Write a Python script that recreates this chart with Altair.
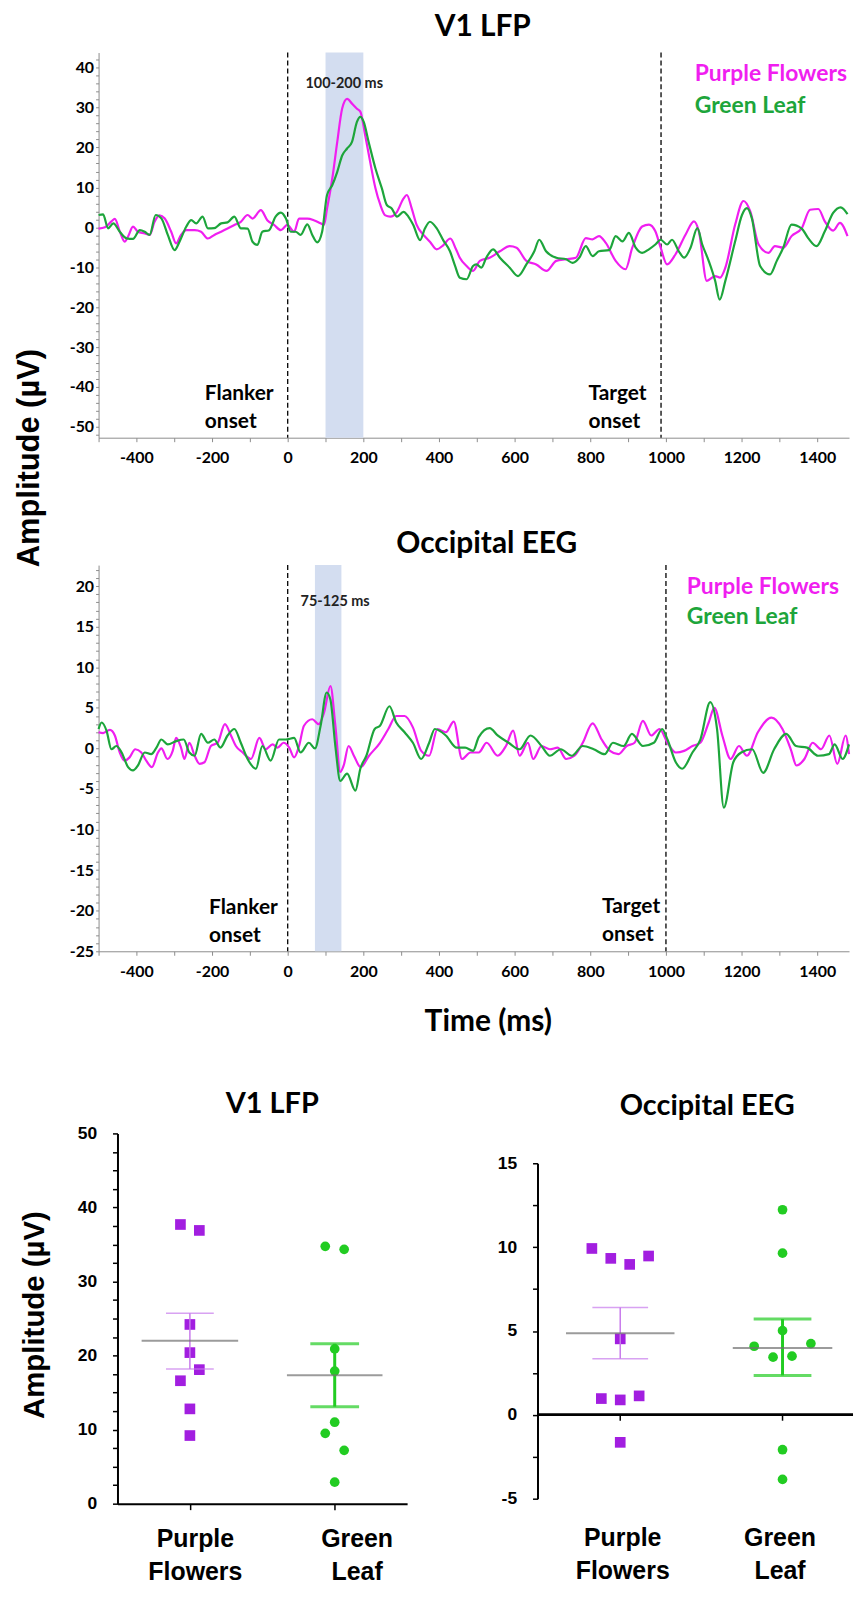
import altair as alt
import pandas as pd

PF = "Purple Flowers"
GL = "Green Leaf"
CATS = [PF, GL]

# ---------------- time courses (t in ms, amplitude in uV) ----------------
LFP_PF_TRACE = [(-500,-0.3),(-483,0),(-466,1.5),(-457,2.1),(-444,-1),(-431,-3.6),(-422,-2.3),(-409,0.2),(-396,-1.1),(-378,-1.5),(-365,-1.9),(-352,1.4),(-339,3),(-325,2.2),(-308,-1.1),(-295,-4),(-282,-1.9),(-268,-0.7),(-246,-0.7),(-229,-1.1),(-211,-2.8),(-194,-1.9),(-176,-1.1),(-159,-0.3),(-141,0.6),(-124,1.4),(-106,3.1),(-93,2.2),(-71,4.3),(-54,1.8),(-36,0.6),(-18,-0.7),(-1,0.6),(17,-1.1),(30,2.2),(52,2.2),(69,1.8),(87,1),(96,0.6),(104,4.7),(118,12.3),(131,21.4),(144,29.8),(157,32.2),(170,31),(183,29.7),(192,29),(205,23),(218,16.4),(232,9.8),(245,5.6),(258,3),(271,2.7),(289,3.9),(306,7.2),(315,8.1),(328,4.7),(341,0.6),(359,-1.9),(376,-3.6),(394,-5.5),(411,-4.5),(430,-2.8),(445,-5.5),(455,-7.6),(473,-9.7),(490,-10.9),(508,-8.4),(534,-7.6),(561,-6),(587,-4.7),(605,-5.1),(631,-8.4),(657,-9.3),(684,-10.9),(710,-8.4),(736,-8),(762,-7.6),(788,-2.7),(806,-3),(823,-2.2),(841,-3.9),(867,-8.4),(893,-10.5),(911,-5.1),(937,0.2),(955,0.7),(972,-1),(986,-5.1),(1003,-9.3),(1025,-6.8),(1052,-1.8),(1074,1.5),(1087,-1),(1108,-13.4),(1130,-12.2),(1143,-12.6),(1157,-10.1),(1183,0.7),(1205,6.6),(1223,4),(1245,-4.3),(1271,-6.4),(1288,-4.7),(1310,-5.1),(1332,-2.2),(1359,-0.2),(1381,4.4),(1403,4.6),(1420,1.5),(1442,-0.8),(1460,1.1),(1480,-2.2)]

LFP_GL_TRACE = [(-500,3.1),(-488,3.25),(-475,-0.25),(-461,1),(-444,-1.1),(-426,-2.75),(-409,-2.9),(-391,-0.7),(-378,-1.1),(-365,-1.9),(-349,3.1),(-334,2.25),(-317,-1.9),(-299,-5.7),(-286,-3.6),(-268,0.2),(-255,1.8),(-242,1),(-225,2.7),(-211,-0.25),(-194,-0.2),(-176,1),(-159,1.25),(-141,2.7),(-124,-0.25),(-106,-0.3),(-93,-3.6),(-80,-4.4),(-67,-1.1),(-49,-0.7),(-32,2.7),(-18,3.7),(-5,2.25),(8,-1.1),(21,-1.1),(34,-1.9),(52,0.75),(65,-1.9),(78,-3.75),(91,-1.1),(104,8.1),(118,10.6),(131,13.9),(144,18),(157,19.75),(170,21.4),(183,26.4),(192,27.7),(201,26.4),(214,21.4),(232,14.75),(249,9.75),(262,5.6),(275,4.75),(289,2.7),(306,3.9),(319,2.7),(332,0.6),(350,-3.2),(363,-0.25),(376,1.4),(394,-0.25),(411,-3.2),(429,-6),(442,-9.5),(455,-12.6),(473,-13),(490,-9.7),(499,-9.3),(512,-10.1),(525,-7.6),(543,-5.5),(561,-7.6),(587,-10.1),(609,-12.2),(631,-9.3),(652,-6),(665,-3.1),(683,-6),(710,-7.6),(736,-8),(753,-8.9),(771,-7.6),(788,-4.7),(806,-7.2),(823,-6),(850,-5.7),(867,-2.2),(885,-3.5),(902,-1.4),(920,-5.1),(937,-6.4),(955,-5.5),(972,-4.3),(986,-3.1),(1003,-4.3),(1016,-3.1),(1034,-6),(1048,-7.6),(1065,-5.1),(1083,-0.2),(1096,-4.3),(1113,-8.4),(1130,-13.4),(1142,-18.1),(1157,-13.4),(1183,-3.5),(1201,3.1),(1214,4.8),(1227,2.3),(1249,-9.7),(1275,-11.8),(1293,-8.4),(1310,-5.1),(1332,0.7),(1359,-0.3),(1376,-2.7),(1398,-4.7),(1420,-1),(1442,3.6),(1462,5),(1480,3.3)]

EEG_PF_TRACE = [(-500,2),(-488,1.9),(-470,2.3),(-457,1.6),(-444,-0.5),(-431,-1.5),(-418,-1.1),(-403,-0.1),(-387,-0.5),(-374,-1.5),(-359,-2.3),(-343,-0.5),(-334,0),(-318,-1.3),(-304,-0.3),(-295,1.3),(-282,0.1),(-273,-1.3),(-260,0.7),(-246,-0.9),(-233,-1.9),(-220,-1.7),(-203,0.3),(-185,0.7),(-166,3),(-150,1.6),(-137,0.3),(-119,-0.5),(-97,-1.3),(-75,1.3),(-58,-0.1),(-40,0.5),(-27,0.1),(-11,0.7),(4,0.1),(17,-1.1),(30,0.3),(43,2.8),(65,3.6),(82,3),(96,4.4),(113,7.7),(126,2.8),(139,-2.9),(148,-2.1),(161,0.3),(175,-0.9),(193,-2.3),(215,-0.9),(244,0.7),(266,2.4),(287,4),(309,4),(331,2.6),(353,-0.3),(374,-0.9),(396,2.4),(418,2),(439,3.3),(461,-1.3),(483,-0.5),(505,-0.5),(526,0.7),(555,-0.9),(577,0.3),(596,2.2),(613,-0.9),(635,0.7),(649,-1.3),(671,0.3),(693,-0.1),(714,0.1),(736,-1.3),(758,-0.9),(780,0.7),(806,3.1),(830,1.1),(852,-0.3),(874,-0.7),(896,0.3),(917,0.7),(939,3.4),(961,1.6),(983,2.4),(1004,0.7),(1026,-0.5),(1048,-0.3),(1070,0.3),(1091,0.7),(1113,3.2),(1128,5),(1149,1.6),(1171,-1.3),(1193,0.3),(1214,-0.9),(1243,2),(1279,3.8),(1308,2.4),(1330,-0.1),(1345,-2.1),(1366,-1.3),(1388,0.7),(1410,-0.1),(1432,1.6),(1453,-1.9),(1475,1.6),(1484,-0.7)]

EEG_GL_TRACE = [(-500,2.4),(-492,3.2),(-479,2.2),(-466,-0.1),(-453,0.3),(-439,-0.5),(-422,-2.3),(-409,-2.7),(-396,-2.1),(-378,-0.5),(-361,-0.7),(-347,0.1),(-334,1.1),(-317,0.5),(-295,0.9),(-275,1.1),(-260,-0.5),(-246,-0.9),(-229,1.8),(-211,0.7),(-194,1.1),(-178,0.1),(-159,1.6),(-141,2.4),(-124,0.7),(-106,-1.3),(-84,-2.5),(-67,0.3),(-45,-1.5),(-23,1.1),(-5,1.1),(17,1.3),(34,-0.5),(56,0.7),(72,0),(87,2.8),(103,6.9),(113,6),(126,0.3),(139,-4),(157,-3.1),(179,-5.2),(192,-2.5),(208,-0.9),(230,2.4),(244,2.8),(269,5.2),(287,3.2),(309,2),(331,0.7),(353,-1.3),(374,0.7),(389,2.4),(418,1.6),(447,0.1),(469,0.1),(490,-0.3),(505,1.4),(534,2.5),(555,1.6),(584,0.7),(613,-0.1),(642,1.6),(671,0.3),(693,-0.9),(722,-0.1),(751,-0.9),(780,0.3),(809,-0.1),(838,-0.7),(860,0.7),(888,0.3),(910,1.8),(939,0.3),(968,0.7),(990,2.4),(1004,1.1),(1026,-1.7),(1043,-2.5),(1070,-0.5),(1091,1.1),(1117,5.7),(1135,2.4),(1153,-7.3),(1178,-1.7),(1199,-0.5),(1228,-0.1),(1257,-3),(1286,-0.1),(1318,1.8),(1344,0.3),(1373,0.1),(1402,-0.9),(1431,-0.7),(1446,0.5),(1467,-1.3),(1484,0.5)]

LFP_WINDOW = [100, 200]
EEG_WINDOW = [72, 142]
LFP_ONSETS = [0, 987]
EEG_ONSETS = [0, 1000]

LFP_NOTES = [("Flanker", -219, -41.8), ("onset", -219, -48.8), ("Target", 795, -41.8), ("onset", 795, -48.8)]
EEG_NOTES = [("Flanker", -208, -19.7), ("onset", -208, -23.1), ("Target", 831, -19.5), ("onset", 831, -23.0)]
LFP_KEY = [(PF, 1076, 38.3), (GL, 1076, 30.5)]
EEG_KEY = [(PF, 1055, 19.9), (GL, 1055, 16.2)]
LFP_WIN_LABEL = [("100-200 ms", 47, 35.8)]
EEG_WIN_LABEL = [("75-125 ms", 34, 18.1)]

# ---------------- per-animal amplitudes ----------------
LFP_PF_AMP = [37.7, 36.9, 24.2, 20.4, 18.1, 16.6, 12.8, 9.2]
LFP_PF_SLOT = [-1, 1, 0, 0, 1, -1, 0, 0]
LFP_GL_AMP = [34.75, 34.35, 20.9, 17.9, 11.0, 9.5, 7.2, 2.9]
LFP_GL_SLOT = [-1, 1, 0, 0, 0, -1, 1, 0]
EEG_PF_AMP = [9.92, 9.33, 8.97, 9.47, 4.53, 0.97, 0.89, 1.13, -1.64]
EEG_PF_SLOT = [-3, -1, 1, 3, 0, -2, 0, 2, 0]
EEG_GL_AMP = [12.23, 9.64, 5.02, 4.09, 4.25, 3.44, 3.5, -2.08, -3.85]
EEG_GL_SLOT = [0, 0, 0, -3, 3, -1, 1, 0, 0]

LFP_MEAN = [22.0, 17.35]
LFP_HI = [25.7, 21.6]
LFP_LO = [18.2, 13.1]
EEG_MEAN = [4.86, 3.99]
EEG_HI = [6.4, 5.71]
EEG_LO = [3.34, 2.35]

# ---------------- styles ----------------
MAG = "#F01EF0"
GRN = "#1DA53B"
PURP = "#A21EE0"
LAV = "#C87AEC"
LIME = "#22CC22"
GRAY = "#707070"
BAND = "#D3DDF0"
AXG = "#8c8c8c"

XS = alt.Scale(domain=[-500, 1484], nice=False, zero=False)
COLS = alt.Scale(domain=[PF, GL], range=[MAG, GRN])


def spacer(w, h):
    return alt.Chart(pd.DataFrame({"s": [0]})).mark_point(opacity=0).properties(width=w, height=h)


def wave_panel(pf_tr, gl_tr, window, onsets, ydom, yvals, every, height, notes, key, wlab,
               title, tdx, tdy, ytitle=None, xtitle=None):
    ys = alt.Scale(domain=ydom, nice=False, zero=False)
    tr = pd.DataFrame([(t, v, PF) for t, v in pf_tr] + [(t, v, GL) for t, v in gl_tr],
                      columns=["t", "v", "series"])
    xkw = dict(values=list(range(-500, 1401, 100)),
               labelExpr="datum.value % 200 == 0 ? '' + datum.value : ''",
               domainColor=AXG, tickColor=AXG, tickSize=4, labelFont="Lato", labelFontSize=16,
               labelFontWeight="bold", labelColor="black", labelPadding=8, grid=False,
               labelOverlap=False, labelFlush=False, title=None)
    if xtitle:
        xkw.update(title=xtitle, titleFont="Lato", titleFontSize=30, titleFontWeight="bold",
                   titleColor="black", titleX=391, titleY=80, titleAlign="center",
                   titleBaseline="alphabetic", titleAngle=0)
    ykw = dict(values=yvals, labelExpr=f"datum.value % {every} == 0 ? '' + datum.value : ''",
               domainColor=AXG, tickColor=AXG, tickSize=3, labelFont="Lato", labelFontSize=16,
               labelFontWeight="bold", labelColor="black", labelPadding=2, grid=False,
               labelOverlap=False, labelFlush=False, title=None)
    if ytitle:
        ykw.update(title=ytitle, titleFont="Liberation Sans", titleFontSize=31, titleFontWeight="bold",
                   titleColor="black", titleX=-69, titleY=407, titleAlign="center",
                   titleBaseline="middle", titleAngle=270)
    XA = alt.Axis(**xkw)
    YA = alt.Axis(**ykw)

    band = alt.Chart(pd.DataFrame({"t0": [window[0]], "t1": [window[1]]})).mark_rect(color=BAND).encode(
        x=alt.X("t0:Q", scale=XS, axis=XA), x2="t1:Q")
    rules = alt.Chart(pd.DataFrame({"t": onsets})).mark_rule(
        color="black", strokeDash=[5, 3], strokeWidth=1.3).encode(x=alt.X("t:Q", scale=XS, axis=XA))
    lines = alt.Chart(tr).mark_line(strokeWidth=2.2, interpolate="monotone").encode(
        x=alt.X("t:Q", scale=XS, axis=XA),
        y=alt.Y("v:Q", scale=ys, axis=YA),
        color=alt.Color("series:N", scale=COLS, legend=None))
    nt = alt.Chart(pd.DataFrame(notes, columns=["label", "t", "v"])).mark_text(
        align="left", baseline="middle", font="Lato", fontSize=21, fontWeight="bold", color="black").encode(
        x=alt.X("t:Q", scale=XS, axis=XA), y=alt.Y("v:Q", scale=ys, axis=YA), text="label:N")
    kt = alt.Chart(pd.DataFrame(key, columns=["series", "t", "v"])).mark_text(
        align="left", baseline="middle", font="Lato", fontSize=23, fontWeight="bold").encode(
        x=alt.X("t:Q", scale=XS, axis=XA), y=alt.Y("v:Q", scale=ys, axis=YA), text="series:N",
        color=alt.Color("series:N", scale=COLS, legend=None))
    wt = alt.Chart(pd.DataFrame(wlab, columns=["label", "t", "v"])).mark_text(
        align="left", baseline="middle", font="Lato", fontSize=14.5, fontWeight="bold", color="#222222").encode(
        x=alt.X("t:Q", scale=XS, axis=XA), y=alt.Y("v:Q", scale=ys, axis=YA), text="label:N")
    return alt.layer(band, rules, lines, nt, kt, wt).properties(
        width=754, height=height,
        title=alt.TitleParams(title, font="Lato", fontSize=30, fontWeight="bold", color="black",
                              anchor="middle", frame="group", dx=tdx, dy=tdy, offset=17,
                              baseline="alphabetic"))


def scatter_panel(pf_amp, pf_slot, gl_amp, gl_slot, mean, hi, lo, ydom, yvals, every, width, height,
                  xscale, title, tdx, tdy, toff, lab_off, cap_len, cap_w, mean_len, ytitle=None,
                  zero_line=False):
    ys = alt.Scale(domain=ydom, nice=False, zero=False)
    xo = alt.XOffset("slot:Q", scale=alt.Scale(domain=[-3, 3], range=[-28.5, 28.5]))
    pf = pd.DataFrame({"cat": PF, "amp": pf_amp, "slot": pf_slot})
    gl = pd.DataFrame({"cat": GL, "amp": gl_amp, "slot": gl_slot})
    st = pd.DataFrame({"cat": CATS, "mean": mean, "hi": hi, "lo": lo})

    off = {"condition": {"test": f"datum.value === '{GL}'", "value": lab_off[1]}, "value": lab_off[0]}
    xkw = dict(title=None, labelExpr="split(datum.label, ' ')", labelFont="Liberation Sans",
               labelFontSize=25, labelFontWeight="bold", labelColor="black", labelLineHeight=33,
               labelAngle=0, labelOffset=off)
    if zero_line:
        xkw.update(domain=False, ticks=False, tickSize=0, labelPadding=27)
    else:
        xkw.update(domainColor="black", domainWidth=2, tickColor="black", tickWidth=1.5, tickSize=6,
                   labelPadding=17)
    ykw = dict(values=yvals, labelExpr=f"datum.value % {every} == 0 ? '' + datum.value : ''",
               domainColor="black", domainWidth=2, tickColor="black", tickWidth=1.5, tickSize=5,
               labelFont="Liberation Sans", labelFontSize=17.5, labelFontWeight="bold",
               labelColor="black", labelPadding=16, grid=False, labelOverlap=False, labelFlush=False,
               title=None)
    if ytitle:
        ykw.update(title=ytitle, titleFont="Liberation Sans", titleFontSize=29.5, titleFontWeight="bold",
                   titleColor="black", titleX=-83.5, titleY=182, titleAlign="center",
                   titleBaseline="middle", titleAngle=270)
    XA = alt.Axis(**xkw)
    YA = alt.Axis(**ykw)
    X0 = alt.X("cat:N", scale=xscale, axis=XA)

    layers = []
    if zero_line:
        layers.append(alt.Chart(st).mark_rule(color="black", strokeWidth=2.5).encode(
            y=alt.Y(datum=0, scale=ys, axis=YA)))
        layers.append(alt.Chart(st).mark_rule(color="black", strokeWidth=1.5).encode(
            x=X0, y=alt.Y(datum=0, scale=ys, axis=YA), y2=alt.Y2(datum=-0.35)))
    layers.append(alt.Chart(pf).mark_square(size=115, color=PURP, opacity=1).encode(
        x=X0, xOffset=xo, y=alt.Y("amp:Q", scale=ys, axis=YA)))
    layers.append(alt.Chart(gl).mark_circle(size=95, color=LIME, opacity=1).encode(
        x=X0, xOffset=xo, y=alt.Y("amp:Q", scale=ys, axis=YA)))
    for i, (cat, col) in enumerate([(PF, LAV), (GL, LIME)]):
        base = alt.Chart(st).transform_filter(f"datum.cat === '{cat}'")
        layers.append(base.mark_rule(color=col, strokeWidth=cap_w[i]).encode(
            x=X0, y=alt.Y("lo:Q", scale=ys, axis=YA), y2="hi:Q"))
        for fld in ["hi", "lo"]:
            layers.append(base.mark_tick(color=col, thickness=cap_w[i], size=cap_len[i], orient="horizontal").encode(
                x=X0, y=alt.Y(f"{fld}:Q", scale=ys, axis=YA)))
        layers.append(base.mark_tick(color=GRAY, thickness=2, size=mean_len[i], orient="horizontal").encode(
            x=X0, y=alt.Y("mean:Q", scale=ys, axis=YA)))
    return alt.layer(*layers).properties(
        width=width, height=height,
        title=alt.TitleParams(title, font="Lato", fontSize=29, fontWeight="bold", color="black",
                              anchor="middle", frame="group", dx=tdx, dy=tdy, offset=toff,
                              baseline="alphabetic"))


top = wave_panel(LFP_PF_TRACE, LFP_GL_TRACE, LFP_WINDOW, LFP_ONSETS, [-52.7, 43.8],
                 list(range(-52, 43, 2)), 10, 387, LFP_NOTES, LFP_KEY, LFP_WIN_LABEL,
                 "V1 LFP", 9, 31, ytitle="Amplitude (µV)")
mid = wave_panel(EEG_PF_TRACE, EEG_GL_TRACE, EEG_WINDOW, EEG_ONSETS, [-25, 22.6],
                 list(range(-25, 23, 1)), 5, 388, EEG_NOTES, EEG_KEY, EEG_WIN_LABEL,
                 "Occipital EEG", 13, 38, xtitle="Time (ms)")

left = scatter_panel(LFP_PF_AMP, LFP_PF_SLOT, LFP_GL_AMP, LFP_GL_SLOT, LFP_MEAN, LFP_HI, LFP_LO,
                     [0, 50], [x * 2.5 for x in range(0, 21)], 10, 291, 372,
                     alt.Scale(type="point", domain=CATS, padding=0.5),
                     "V1 LFP", 10, 30, 13, [5, 22], [48, 49], [1.5, 3], [97, 96], ytitle="Amplitude (µV)")
right = scatter_panel(EEG_PF_AMP, EEG_PF_SLOT, EEG_GL_AMP, EEG_GL_SLOT, EEG_MEAN, EEG_HI, EEG_LO,
                      [-5, 15], [x * 2.5 - 5 for x in range(0, 9)], 5, 317, 337,
                      alt.Scale(type="point", domain=CATS, padding=0.472, align=0.54),
                      "Occipital EEG", 12, 32, 43, [2, -3], [56, 58], [1.5, 3], [109, 100], zero_line=True)

bottom = alt.hconcat(spacer(19, 1), left, spacer(131, 1),
                     alt.vconcat(spacer(1, 30), right, spacing=0, bounds="flush"),
                     spacing=0, bounds="flush")

chart = alt.vconcat(top, spacer(1, 128), mid, spacer(1, 183), bottom, spacing=0, bounds="flush").properties(
    padding={"left": 6, "top": 0, "right": 0, "bottom": 0}
).configure_view(stroke=None)

chart.save("out.html", embed_options={"renderer": "svg", "actions": False})
